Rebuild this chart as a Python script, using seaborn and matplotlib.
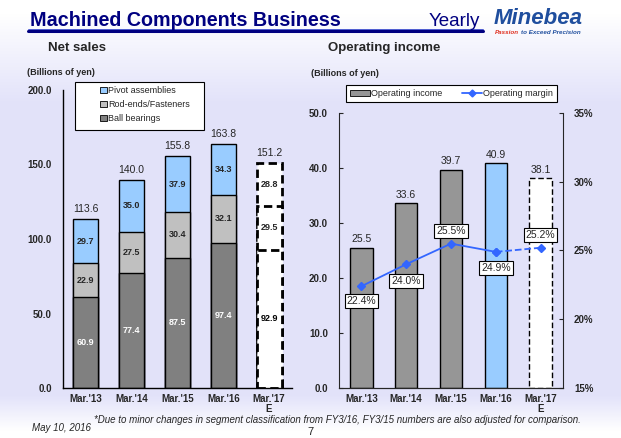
import numpy as np
import pandas as pd
import matplotlib
matplotlib.use("Agg")
import matplotlib.pyplot as plt
from matplotlib.lines import Line2D
from matplotlib.patches import Patch, Rectangle
import seaborn as sns

# data
years = ["Mar.'13", "Mar.'14", "Mar.'15", "Mar.'16", "Mar.'17\nE"]
ball = [60.9, 77.4, 87.5, 97.4, 92.9]
rod = [22.9, 27.5, 30.4, 32.1, 29.5]
pivot = [29.7, 35.0, 37.9, 34.3, 28.8]
totals = [113.6, 140.0, 155.8, 163.8, 151.2]
op_income = [25.5, 33.6, 39.7, 40.9, 38.1]
op_margin = [22.4, 24.0, 25.5, 24.9, 25.2]

sns.set_style("white")
plt.rcParams['font.family'] = ['Liberation Sans', 'DejaVu Sans']

ball_c = "#808080"
rod_c = "#C0C0C0"
pivot_c = "#99CCFF"
inc_c = "#969696"
line_c = "#3366FF"
navy = "#000080"

fig = plt.figure(figsize=(6.21, 4.38), dpi=100)
W, H = 621, 438

# background gradient
bg = fig.add_axes([0, 0, 1, 1], zorder=-10)
yy = np.linspace(0, 1, 438)
lav = np.array([0.89, 0.89, 0.98])
wht = np.array([1.0, 1.0, 1.0])
t = np.clip((yy - 0.03) / 0.2, 0, 1)
t = t * np.clip((0.985 - yy) / 0.08, 0, 1)
img = wht[None, :] * (1 - t[:, None]) + lav[None, :] * t[:, None]
bg.imshow(np.repeat(img[:, None, :], 4, axis=1), aspect="auto", extent=[0, 1, 1, 0])
bg.set_xlim(0, 1)
bg.set_ylim(1, 0)
bg.axis("off")


def fx(px):
    return px / W


def fy(py):
    return 1 - py / H


# ---------- Net sales ----------
ax1 = fig.add_axes([fx(63), fy(388), fx(292) - fx(63), fy(90) - fy(388)])
ax1.patch.set_alpha(0)
df = pd.DataFrame({"year": years, "ball": ball, "rod": rod, "pivot": pivot})
df["l2"] = df["ball"] + df["rod"]
df["l3"] = df["l2"] + df["pivot"]
for col, c in [("l3", pivot_c), ("l2", rod_c), ("ball", ball_c)]:
    sns.barplot(data=df, x="year", y=col, color=c, width=0.55, saturation=1,
                edgecolor="black", linewidth=1, errorbar=None, ax=ax1)
for p in ax1.patches:
    if p.get_x() + p.get_width() / 2 > 3.5:
        p.set_facecolor("white")
        p.set_linestyle((0, (3, 1.6)))
        p.set_linewidth(2)

for i in range(5):
    col = "black" if i == 4 else "white"
    ax1.text(i, ball[i] / 2, f"{ball[i]:.1f}", ha="center", va="center",
             fontsize=6.5, fontweight="bold", color=col)
    ax1.text(i, ball[i] + rod[i] / 2, f"{rod[i]:.1f}", ha="center", va="center",
             fontsize=6.5, fontweight="bold")
    ax1.text(i, ball[i] + rod[i] + pivot[i] / 2, f"{pivot[i]:.1f}", ha="center",
             va="center", fontsize=6.5, fontweight="bold")
    ax1.text(i, df["l3"][i] + 3, f"{totals[i]:.1f}", ha="center", va="bottom",
             fontsize=7.5)

ax1.set_ylim(0, 200)
ax1.set_xlim(-0.5, 4.5)
ax1.set_yticks([0, 50, 100, 150, 200])
ax1.set_yticklabels([f"{v:.1f}" for v in [0, 50, 100, 150, 200]],
                    fontsize=7, fontweight="bold")
ax1.set_xticks(range(5))
ax1.set_xticklabels(years, fontsize=7, fontweight="bold", linespacing=1.1)
ax1.set_xticks([0.5, 1.5, 2.5, 3.5, 4.5], minor=True)
ax1.tick_params(axis="x", which="major", length=0, pad=4)
ax1.tick_params(axis="x", which="minor", direction="in", length=3)
ax1.tick_params(axis="y", direction="in", length=3, pad=8)
ax1.set_xlabel("")
ax1.set_ylabel("")
for s in ["top", "right"]:
    ax1.spines[s].set_visible(False)
for s in ["left", "bottom"]:
    ax1.spines[s].set_color("black")
    ax1.spines[s].set_linewidth(1)

# legend frame drawn separately so it can be wider than the entries
fig.add_artist(Rectangle((fx(75), fy(130)), fx(204) - fx(75), fy(82) - fy(130),
                         transform=fig.transFigure, fc="white", ec="black",
                         lw=0.8, zorder=4))
h1 = [Patch(fc=pivot_c, ec="black", lw=0.6),
      Patch(fc=rod_c, ec="black", lw=0.6),
      Patch(fc=ball_c, ec="black", lw=0.6)]
leg1 = fig.legend(h1, ["Pivot assemblies", "Rod-ends/Fasteners", "Ball bearings"],
                  loc="upper left", bbox_to_anchor=(fx(97), fy(83)),
                  prop={"size": 6.5}, handlelength=0.8, handleheight=0.8,
                  handletextpad=0.1, labelspacing=0.55, borderpad=0.35,
                  frameon=False, borderaxespad=0)
leg1.set_zorder(5)

# ---------- Operating income ----------
ax2 = fig.add_axes([fx(339), fy(388), fx(563) - fx(339), fy(113) - fy(388)])
ax2.patch.set_alpha(0)
pal = [inc_c, inc_c, inc_c, pivot_c, "white"]
sns.barplot(x=years, y=op_income, hue=years, palette=pal, legend=False,
            width=0.5, saturation=1, edgecolor="black", linewidth=1, ax=ax2)
for p in ax2.patches:
    if p.get_x() + p.get_width() / 2 > 3.5:
        p.set_linestyle((0, (4, 2)))
for i in range(5):
    ax2.text(i, op_income[i] + 0.6, f"{op_income[i]:.1f}", ha="center",
             va="bottom", fontsize=7.5)

ax2.set_ylim(0, 50)
ax2.set_xlim(-0.5, 4.5)
ax2.set_yticks([0, 10, 20, 30, 40, 50])
ax2.set_yticklabels([f"{v:.1f}" for v in [0, 10, 20, 30, 40, 50]],
                    fontsize=7, fontweight="bold")
ax2.set_xticks(range(5))
ax2.set_xticklabels(years, fontsize=7, fontweight="bold", linespacing=1.1)
ax2.set_xticks([0.5, 1.5, 2.5, 3.5, 4.5], minor=True)
ax2.tick_params(axis="x", which="major", length=0, pad=4)
ax2.tick_params(axis="x", which="minor", direction="in", length=3)
ax2.tick_params(axis="y", direction="in", length=3, pad=8)
ax2.spines["top"].set_visible(False)
ax2.spines["right"].set_visible(False)

ax3 = ax2.twinx()
ax3.patch.set_alpha(0)
ax3.plot(range(4), op_margin[:4], color=line_c, lw=1.3, marker="D", ms=4)
ax3.plot([3, 4], op_margin[3:], color=line_c, lw=1.3, ls="--", marker="D", ms=4)
ax3.set_ylim(15, 35)
ax3.set_yticks([15, 20, 25, 30, 35])
ax3.set_yticklabels([f"{v}%" for v in [15, 20, 25, 30, 35]], fontsize=7,
                    fontweight="bold")
ax3.tick_params(axis="y", direction="in", length=3, pad=8)
ax3.spines["top"].set_visible(False)
ax3.spines["left"].set_visible(False)
offs = [-1.1, -1.2, 0.9, -1.2, 0.95]
for i in range(5):
    ax3.text(i, op_margin[i] + offs[i], f"{op_margin[i]:.1f}%", ha="center",
             va="center", fontsize=7.5,
             bbox=dict(boxstyle="square,pad=0.2", fc="white", ec="black", lw=0.8))

h2 = [Patch(fc=inc_c, ec="black", lw=0.6),
      Line2D([0], [0], color=line_c, lw=1.3, marker="D", ms=3.5)]
leg2 = fig.legend(h2, ["Operating income", "Operating margin"], ncol=2,
                  loc="upper left", bbox_to_anchor=(fx(346), fy(85)),
                  prop={"size": 6.5}, handlelength=2.2, handleheight=0.6,
                  handletextpad=0.1, columnspacing=2.2, borderpad=0.45,
                  frameon=True, fancybox=False, edgecolor="black",
                  facecolor="white", framealpha=1, borderaxespad=0)
leg2.get_frame().set_linewidth(0.8)

# ---------- header / footer texts ----------
fig.text(fx(30), fy(26), "Machined Components Business", fontsize=14.2,
         fontweight="bold", color=navy, va="baseline")
fig.text(fx(429), fy(26), "Yearly", fontsize=13.5, color=navy, va="baseline")
fig.add_artist(Line2D([fx(28), fx(483)], [fy(28.5), fy(28.5)], color="#3344CC", lw=0.6))
fig.add_artist(Line2D([fx(28), fx(483)], [fy(31), fy(31)], color=navy, lw=2.2))
fig.text(fx(494), fy(24), "Minebea", fontsize=16, fontweight="heavy",
         fontstyle="italic", color="#1F4E9E", va="baseline")
passion = fig.text(fx(495), fy(34), "Passion", fontsize=4.5, fontweight="bold",
                   fontstyle="italic", color="#E03020", va="baseline")
fig.add_artist(plt.Annotation("to Exceed Precision", xy=(1, 0), xycoords=passion,
                              xytext=(1.5, 0), textcoords="offset points",
                              fontsize=4.5, fontweight="bold", fontstyle="italic",
                              color="#1F4E9E", va="bottom"))

fig.text(fx(48), fy(51), "Net sales", fontsize=9.5, fontweight="bold", va="baseline")
fig.text(fx(328), fy(51), "Operating income", fontsize=9.5, fontweight="bold",
         va="baseline")
fig.text(fx(27), fy(75), "(Billions of yen)", fontsize=6.5, fontweight="bold",
         va="baseline")
fig.text(fx(311), fy(76), "(Billions of yen)", fontsize=6.5, fontweight="bold",
         va="baseline")

fig.text(fx(94), fy(423), "*Due to minor changes in segment classification from "
         "FY3/16, FY3/15 numbers are also adjusted for comparison.",
         fontsize=7, fontstyle="italic", va="baseline")
fig.text(fx(32), fy(431), "May 10, 2016", fontsize=7, fontstyle="italic",
         va="baseline")
fig.text(fx(307), fy(435), "7", fontsize=8, va="baseline")

fig.savefig("out.png", dpi=100)
